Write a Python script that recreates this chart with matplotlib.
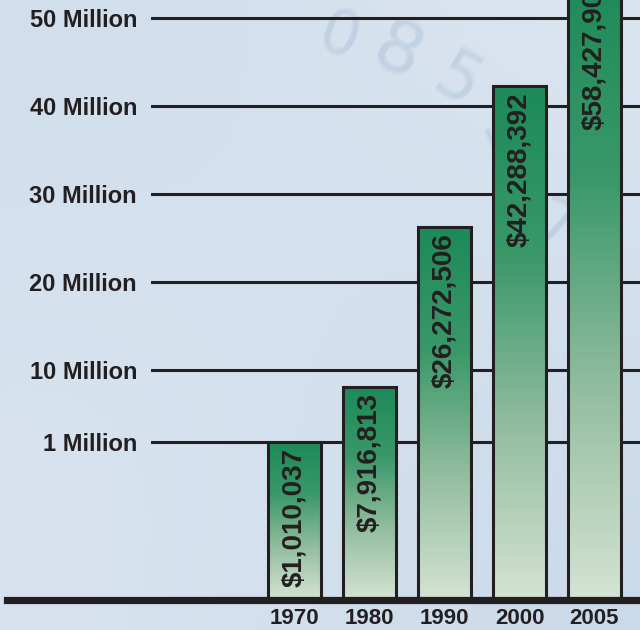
"""Growth bar chart, 1970-2005, on a pale blue backdrop."""
import matplotlib
matplotlib.use('Agg')
import matplotlib.pyplot as plt
import numpy as np
from matplotlib.colors import LinearSegmentedColormap
from matplotlib.lines import Line2D

years = ['1970', '1980', '1990', '2000', '2005']
amounts = [1010037, 7916813, 26272506, 42288392, 58427903]
amount_labels = ['$1,010,037', '$7,916,813', '$26,272,506', '$42,288,392', '$58,427,903']

tick_values = [1e6, 10e6, 20e6, 30e6, 40e6, 50e6]
tick_labels = ['1 Million', '10 Million', '20 Million', '30 Million', '40 Million', '50 Million']

# the printed axis is not linear: 0-1M takes more room than each 10M step
scale_vals = np.array([0, 1e6, 10e6, 20e6, 30e6, 40e6, 50e6, 100e6])
scale_pos = np.array([0, 158, 230, 318, 406, 494, 582, 870])


def fwd(v):
    return np.interp(v, scale_vals, scale_pos)


def inv(p):
    return np.interp(p, scale_pos, scale_vals)


plt.rcParams['font.family'] = ['Liberation Sans', 'DejaVu Sans']
INK = '#231f20'

fig = plt.figure(figsize=(6.4, 6.3), dpi=100)

# backdrop
bg = fig.add_axes([0, 0, 1, 1], zorder=-5)
bg.axis('off')
yy, xx = np.mgrid[0:1:200j, 0:1:200j]
shade = 0.5 + 0.25 * np.sin(3 * xx + 1.5) * np.cos(2.5 * yy) + 0.2 * yy
bg_cmap = LinearSegmentedColormap.from_list('bg', ['#cbdaea', '#dbe5f0'])
bg.imshow(shade, cmap=bg_cmap, extent=(0, 1, 0, 1), aspect='auto', origin='lower')
for ch, x, y, rot, size in [('0', 0.53, 0.94, -20, 44), ('8', 0.62, 0.915, -25, 52),
                            ('5', 0.715, 0.87, -30, 48), ('1', 0.78, 0.78, -65, 44),
                            ('7', 0.87, 0.64, -20, 44)]:
    for dx, dy in [(0, 0), (0.002, 0.002), (-0.002, -0.002)]:
        bg.text(x + dx, y + dy, ch, color='#9db5d1', alpha=0.13, fontsize=size,
                rotation=rot, ha='center', va='center', transform=bg.transAxes,
                family='DejaVu Sans')

ax = fig.add_axes([151 / 640, 30 / 630, 489 / 640, 600 / 630])
ax.set_facecolor('none')
ax.set_yscale('function', functions=(fwd, inv))
x = np.arange(len(years))

for s in ax.spines.values():
    s.set_visible(False)

ax.set_yticks(tick_values)
ax.set_yticklabels(tick_labels, fontsize=17, fontweight='bold', color=INK)
ax.yaxis.grid(True, color=INK, linewidth=2.2, zorder=0)
ax.set_axisbelow(True)
ax.set_xticks(x)
ax.set_xticklabels(years, fontsize=16, fontweight='bold', color=INK)
ax.tick_params(axis='y', length=0, pad=10)
ax.tick_params(axis='x', length=0, pad=6)

bar_cmap = LinearSegmentedColormap.from_list('bar', ['#d4e3d3', '#93bd9f', '#3a9869', '#1d8a59'])
bars = ax.bar(x, amounts, width=0.707, facecolor='none', edgecolor=INK,
              linewidth=2.2, zorder=3)
for b in bars:
    x0, h = b.get_x(), b.get_height()
    # rows spaced evenly in data, coloured by screen height so the fade is even
    rows = np.linspace(0, h, 4000)
    grad = (fwd(rows) / fwd(h)).reshape(-1, 1)
    img = ax.imshow(grad, cmap=bar_cmap, origin='lower', aspect='auto',
                    extent=(x0, x0 + b.get_width(), 0, h), zorder=2)
    img.set_clip_path(b)

for xi, v, lab in zip(x, amounts, amount_labels):
    ax.annotate(lab, xy=(xi, v), xytext=(0, -4.5), textcoords='offset points',
                rotation=90, ha='center', va='top', fontsize=20, fontweight='bold',
                color=INK, annotation_clip=False, zorder=4)

ax.set_xlim((151 - 294.5) / 75, (640 - 294.5) / 75)
ax.set_ylim(0, inv(600))

# heavy base line running past the axis labels
fig.add_artist(Line2D([7 / 640, 1], [30 / 630, 30 / 630], color=INK, linewidth=5.2,
                      transform=fig.transFigure, zorder=10))

fig.savefig('out.png', dpi=100)
